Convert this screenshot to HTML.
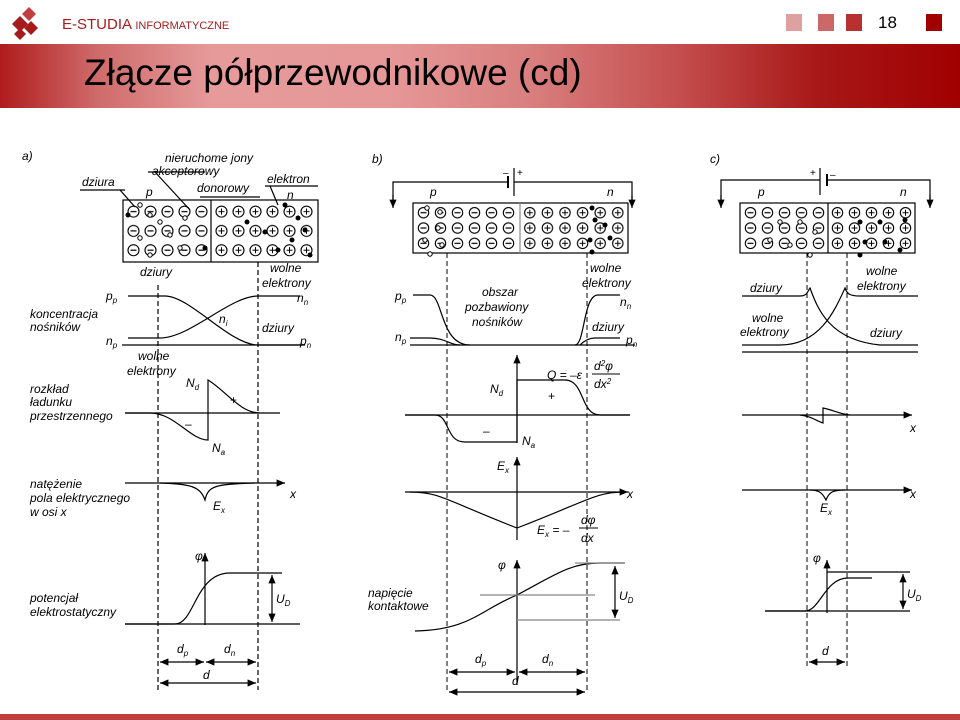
<!DOCTYPE html>
<html><head><meta charset="utf-8"><style>
body{margin:0;width:960px;height:720px;overflow:hidden;background:#fff;font-family:"Liberation Sans",sans-serif}
#hdr{position:absolute;left:0;top:44px;width:960px;height:64px;background:linear-gradient(90deg,#b01c1c 0%,#cf6a6a 10%,#e69a9a 22%,#e69898 40%,#d97f7f 55%,#c65050 70%,#a81818 85%,#a00000 100%)}
#title{position:absolute;left:84px;top:52px;font-size:37px;color:#000}
</style></head><body>
<div id="hdr"></div>
<div id="title">Złącze półprzewodnikowe (cd)</div>
<svg width="960" height="720" style="position:absolute;left:0;top:0" font-family="Liberation Sans,sans-serif" font-style="italic" font-size="12">
<defs>
<pattern id="pma" x="125" y="202" width="17" height="19.3" patternUnits="userSpaceOnUse"><circle cx="8.5" cy="9.6" r="5.5" fill="#fff" stroke="#000" stroke-width="1.1"/><line x1="5.5" y1="9.6" x2="11.5" y2="9.6" stroke="#000" stroke-width="1.2"/></pattern>
<pattern id="ppa" x="213" y="202" width="17" height="19.3" patternUnits="userSpaceOnUse"><circle cx="8.5" cy="9.6" r="5.5" fill="#fff" stroke="#000" stroke-width="1.1"/><line x1="5.5" y1="9.6" x2="11.5" y2="9.6" stroke="#000"/><line x1="8.5" y1="6.6" x2="8.5" y2="12.6" stroke="#000"/></pattern>
<pattern id="pmb" x="415" y="205" width="17" height="15.33" patternUnits="userSpaceOnUse"><circle cx="8.5" cy="7.7" r="5.2" fill="#fff" stroke="#000" stroke-width="1.1"/><line x1="5.5" y1="7.7" x2="11.5" y2="7.7" stroke="#000" stroke-width="1.2"/></pattern>
<pattern id="ppb" x="521" y="205" width="17.6" height="15.33" patternUnits="userSpaceOnUse"><circle cx="8.8" cy="7.7" r="5.2" fill="#fff" stroke="#000" stroke-width="1.1"/><line x1="5.8" y1="7.7" x2="11.8" y2="7.7" stroke="#000"/><line x1="8.8" y1="4.7" x2="8.8" y2="10.7" stroke="#000"/></pattern>
<pattern id="pmc" x="742" y="205" width="17" height="15.33" patternUnits="userSpaceOnUse"><circle cx="8.5" cy="7.7" r="5.2" fill="#fff" stroke="#000" stroke-width="1.1"/><line x1="5.5" y1="7.7" x2="11.5" y2="7.7" stroke="#000" stroke-width="1.2"/></pattern>
<pattern id="ppc" x="829" y="205" width="17" height="15.33" patternUnits="userSpaceOnUse"><circle cx="8.5" cy="7.7" r="5.2" fill="#fff" stroke="#000" stroke-width="1.1"/><line x1="5.5" y1="7.7" x2="11.5" y2="7.7" stroke="#000"/><line x1="8.5" y1="4.7" x2="8.5" y2="10.7" stroke="#000"/></pattern>
<marker id="ar" markerWidth="8" markerHeight="8" refX="7" refY="4" orient="auto"><path d="M0,1 L7,4 L0,7 Z" fill="#000"/></marker>
<marker id="al" markerWidth="8" markerHeight="8" refX="1" refY="4" orient="auto"><path d="M8,1 L1,4 L8,7 Z" fill="#000"/></marker>
</defs>
<!-- header -->
<g fill="#a51c1c"><path d="M12,24 l8,-8 8,8 -8,8z"/><path d="M22,14 l7,-7 7,7 -7,7z" fill="#c04040"/><path d="M24,28 l7,-7 7,7 -7,7z"/><path d="M14,34 l6,-6 6,6 -6,6z"/></g>
<text x="62" y="29" font-style="normal" font-size="15" fill="#a51c1c">E-STUDIA <tspan font-size="11">INFORMATYCZNE</tspan></text>
<rect x="786" y="14" width="16" height="17" fill="#dfa0a0"/><rect x="818" y="14" width="16" height="17" fill="#cc6868"/><rect x="846" y="14" width="16" height="17" fill="#b83030"/>
<text x="878" y="28" font-style="normal" font-size="17" fill="#000">18</text>
<rect x="926" y="14" width="16" height="17" fill="#a00000"/>
<rect x="0" y="714" width="960" height="6" fill="#c04040"/>

<g stroke="#000" fill="none" stroke-width="1.2">
<!-- PANEL A -->
<rect x="123" y="200" width="195" height="62" fill="#fff"/>
<rect x="125" y="202" width="86" height="58" fill="url(#pma)" stroke="none"/>
<rect x="212" y="202" width="105" height="58" fill="url(#ppa)" stroke="none"/>
<line x1="211" y1="200" x2="211" y2="262"/>
<line x1="80" y1="190" x2="125" y2="190"/><line x1="120" y1="190" x2="135" y2="207"/>
<line x1="148" y1="172" x2="205" y2="172"/><line x1="155" y1="172" x2="190" y2="210"/>
<line x1="200" y1="197" x2="260" y2="197"/>
<line x1="265" y1="186" x2="318" y2="186"/><line x1="270" y1="186" x2="278" y2="205"/>
<g stroke-dasharray="5,3"><line x1="158" y1="285" x2="158" y2="690"/><line x1="258" y1="262" x2="258" y2="690"/></g>
<path d="M128,296 H165 C190,296 230,345 258,345 H305"/>
<path d="M128,338 H160 C190,338 230,296 258,296 H300"/>
<line x1="122" y1="345" x2="302" y2="345"/>
<line x1="125" y1="413" x2="280" y2="413"/>
<path d="M125,413 H150 C175,413 190,440 208,440 V380 C225,390 240,413 260,413"/>
<line x1="125" y1="483" x2="285" y2="483" marker-end="url(#ar)"/>
<path d="M160,483 C190,484 200,486 205,500 C208,486 215,484 255,483"/>
<line x1="205" y1="625" x2="205" y2="553" marker-end="url(#ar)"/>
<line x1="125" y1="624" x2="300" y2="624"/>
<path d="M125,624 H175 C195,624 195,573 230,573 H282"/>
<line x1="272" y1="575" x2="272" y2="622" marker-start="url(#al)" marker-end="url(#ar)"/>
<line x1="160" y1="662" x2="204" y2="662" marker-start="url(#al)" marker-end="url(#ar)"/>
<line x1="206" y1="662" x2="256" y2="662" marker-start="url(#al)" marker-end="url(#ar)"/>
<line x1="160" y1="683" x2="256" y2="683" marker-start="url(#al)" marker-end="url(#ar)"/>

<!-- PANEL B -->
<rect x="413" y="203" width="215" height="50" fill="#fff"/>
<rect x="415" y="205" width="104" height="46" fill="url(#pmb)" stroke="none"/>
<rect x="521" y="205" width="106" height="46" fill="url(#ppb)" stroke="none"/>
<line x1="520" y1="203" x2="520" y2="253" stroke="#888"/>
<path d="M393,205 V182 H508 M514,182 H632 V205" /><line x1="393" y1="195" x2="393" y2="208" marker-end="url(#ar)"/><line x1="632" y1="195" x2="632" y2="208" marker-end="url(#ar)"/>
<line x1="508" y1="176" x2="508" y2="188" stroke-width="2"/><line x1="514" y1="168" x2="514" y2="196"/>
<g stroke-dasharray="5,3" stroke-width="1"><line x1="447" y1="253" x2="447" y2="690"/><line x1="587" y1="253" x2="587" y2="690"/></g>
<path d="M413,295 H430 C443,295 440,345 470,345"/>
<path d="M410,338 H430 C445,338 450,345 460,345"/>
<line x1="410" y1="345" x2="635" y2="345"/>
<path d="M575,345 C585,345 583,295 598,295 H620"/>
<path d="M580,345 C585,340 590,338 595,338 H620"/>
<line x1="405" y1="415" x2="630" y2="415"/>
<path d="M405,415 H435 C450,415 445,442 465,442 H517 V380 H565 C585,380 580,415 600,415 H630"/>
<line x1="517" y1="443" x2="517" y2="355" marker-end="url(#ar)"/>
<line x1="405" y1="492" x2="628" y2="492" marker-end="url(#ar)"/>
<path d="M410,492 C440,492 445,500 517,528 C590,500 595,492 625,492"/>
<line x1="517" y1="540" x2="517" y2="457" marker-end="url(#ar)"/>
<line x1="517" y1="685" x2="517" y2="560" marker-end="url(#ar)"/>
<path d="M415,631 C470,630 480,610 517,595 C555,575 570,563 600,563 H625"/>
<line x1="480" y1="595" x2="595" y2="595" stroke="#888"/>
<line x1="575" y1="563" x2="625" y2="563" stroke="#888"/><line x1="517" y1="620" x2="620" y2="620" stroke="#888"/>
<line x1="615" y1="566" x2="615" y2="618" marker-start="url(#al)" marker-end="url(#ar)"/>
<line x1="449" y1="672" x2="515" y2="672" marker-start="url(#al)" marker-end="url(#ar)"/>
<line x1="519" y1="672" x2="585" y2="672" marker-start="url(#al)" marker-end="url(#ar)"/>
<line x1="449" y1="692" x2="585" y2="692" marker-start="url(#al)" marker-end="url(#ar)"/>

<!-- PANEL C -->
<rect x="740" y="203" width="175" height="50" fill="#fff"/>
<rect x="742" y="205" width="85" height="46" fill="url(#pmc)" stroke="none"/>
<rect x="829" y="205" width="85" height="46" fill="url(#ppc)" stroke="none"/>
<line x1="828" y1="203" x2="828" y2="253"/>
<path d="M721,205 V180 H820 M827,180 H930 V205"/><line x1="721" y1="195" x2="721" y2="208" marker-end="url(#ar)"/><line x1="930" y1="195" x2="930" y2="208" marker-end="url(#ar)"/>
<line x1="820" y1="168" x2="820" y2="195"/><line x1="827" y1="174" x2="827" y2="186" stroke-width="2"/>
<g stroke-dasharray="5,3" stroke-width="1"><line x1="807" y1="253" x2="807" y2="668"/><line x1="847" y1="253" x2="847" y2="668"/></g>
<path d="M742,296 H800 C808,296 808,290 810,288 C818,310 830,340 880,345 H918"/>
<path d="M742,345 H780 C820,345 835,310 845,288 C847,294 850,296 860,296 H918"/>
<line x1="742" y1="352" x2="918" y2="352"/>
<line x1="742" y1="415" x2="912" y2="415" marker-end="url(#ar)"/>
<path d="M800,415 C810,416 815,420 823,423 V408 C833,410 840,414 850,415"/>
<line x1="742" y1="490" x2="912" y2="490" marker-end="url(#ar)"/>
<path d="M810,490 C818,490 822,492 826,500 C829,492 833,490 845,490"/>
<line x1="827" y1="613" x2="827" y2="560" marker-end="url(#ar)"/>
<line x1="765" y1="611" x2="910" y2="611"/>
<line x1="827" y1="572" x2="910" y2="572"/>
<path d="M765,611 H805 C820,611 825,578 848,578 H872"/>
<line x1="903" y1="574" x2="903" y2="609" marker-start="url(#al)" marker-end="url(#ar)"/>
<line x1="809" y1="662" x2="845" y2="662" marker-start="url(#al)" marker-end="url(#ar)"/>
</g>

<!-- carriers -->
<g fill="#000">
<circle cx="128" cy="215" r="2.5"/><circle cx="205" cy="248" r="2.5"/><circle cx="247" cy="222" r="2.5"/><circle cx="265" cy="232" r="2.5"/><circle cx="285" cy="205" r="2.5"/><circle cx="292" cy="240" r="2.5"/><circle cx="278" cy="250" r="2.5"/><circle cx="305" cy="230" r="2.5"/><circle cx="298" cy="218" r="2.5"/><circle cx="310" cy="255" r="2.5"/>
<circle cx="592" cy="208" r="2.5"/><circle cx="595" cy="220" r="2.5"/><circle cx="605" cy="225" r="2.5"/><circle cx="590" cy="240" r="2.5"/><circle cx="610" cy="238" r="2.5"/><circle cx="592" cy="252" r="2.5"/>
<circle cx="860" cy="222" r="2.5"/><circle cx="880" cy="222" r="2.5"/><circle cx="865" cy="242" r="2.5"/><circle cx="885" cy="242" r="2.5"/><circle cx="860" cy="255" r="2.5"/><circle cx="900" cy="250" r="2.5"/><circle cx="905" cy="220" r="2.5"/>
</g>
<g fill="#fff" stroke="#000" stroke-width="1">
<circle cx="140" cy="205" r="2.2"/><circle cx="150" cy="215" r="2.2"/><circle cx="160" cy="222" r="2.2"/><circle cx="140" cy="238" r="2.2"/><circle cx="170" cy="235" r="2.2"/><circle cx="180" cy="248" r="2.2"/><circle cx="150" cy="255" r="2.2"/><circle cx="185" cy="218" r="2.2"/>
<circle cx="427" cy="208" r="2.2"/><circle cx="440" cy="212" r="2.2"/><circle cx="438" cy="228" r="2.2"/><circle cx="425" cy="240" r="2.2"/><circle cx="442" cy="245" r="2.2"/><circle cx="430" cy="254" r="2.2"/>
<circle cx="800" cy="222" r="2.2"/><circle cx="815" cy="232" r="2.2"/><circle cx="780" cy="222" r="2.2"/><circle cx="790" cy="245" r="2.2"/><circle cx="810" cy="255" r="2.2"/><circle cx="770" cy="240" r="2.2"/>
</g>

<!-- labels -->
<g fill="#000">
<text x="22" y="160">a)</text><text x="82" y="186">dziura</text><text x="165" y="162">nieruchome jony</text><text x="152" y="175">akceptorowy</text><text x="197" y="192">donorowy</text><text x="267" y="183">elektron</text>
<text x="146" y="196">p</text><text x="287" y="199">n</text>
<text x="140" y="276">dziury</text><text x="270" y="272">wolne</text><text x="262" y="287">elektrony</text>
<text x="106" y="300">p<tspan font-size="8" dy="3">p</tspan></text><text x="30" y="318">koncentracja</text><text x="30" y="331">nośników</text><text x="106" y="345">n<tspan font-size="8" dy="3">p</tspan></text>
<text x="219" y="323">n<tspan font-size="8" dy="3">i</tspan></text><text x="262" y="332">dziury</text><text x="297" y="302">n<tspan font-size="8" dy="3">n</tspan></text><text x="300" y="345">p<tspan font-size="8" dy="3">n</tspan></text>
<text x="138" y="360">wolne</text><text x="127" y="375">elektrony</text><text x="186" y="387">N<tspan font-size="8" dy="3">d</tspan></text>
<text x="30" y="393">rozkład</text><text x="30" y="406">ładunku</text><text x="30" y="420">przestrzennego</text>
<text x="230" y="404" font-style="normal">+</text><text x="185" y="428" font-style="normal">–</text><text x="212" y="452">N<tspan font-size="8" dy="3">a</tspan></text>
<text x="30" y="488">natężenie</text><text x="30" y="502">pola elektrycznego</text><text x="30" y="516">w osi x</text>
<text x="290" y="498">x</text><text x="213" y="510">E<tspan font-size="8" dy="3">x</tspan></text>
<text x="195" y="560">φ</text><text x="30" y="602">potencjał</text><text x="30" y="616">elektrostatyczny</text>
<text x="276" y="603">U<tspan font-size="8" dy="3">D</tspan></text>
<text x="177" y="653">d<tspan font-size="8" dy="3">p</tspan></text><text x="224" y="653">d<tspan font-size="8" dy="3">n</tspan></text><text x="203" y="679">d</text>

<text x="372" y="163">b)</text><text x="503" y="176" font-style="normal" font-size="10">–</text><text x="517" y="176" font-style="normal" font-size="10">+</text>
<text x="430" y="196">p</text><text x="607" y="196">n</text>
<text x="395" y="300">p<tspan font-size="8" dy="3">p</tspan></text><text x="395" y="341">n<tspan font-size="8" dy="3">p</tspan></text>
<text x="482" y="296">obszar</text><text x="465" y="311">pozbawiony</text><text x="472" y="326">nośników</text>
<text x="590" y="272">wolne</text><text x="582" y="287">elektrony</text><text x="620" y="306">n<tspan font-size="8" dy="3">n</tspan></text>
<text x="592" y="331">dziury</text><text x="626" y="344">p<tspan font-size="8" dy="3">n</tspan></text>
<text x="490" y="393">N<tspan font-size="8" dy="3">d</tspan></text><text x="548" y="400" font-style="normal">+</text><text x="483" y="435" font-style="normal">–</text><text x="522" y="445">N<tspan font-size="8" dy="3">a</tspan></text>
<text x="547" y="379">Q = –ε</text><text x="594" y="370">d<tspan font-size="8" dy="-4">2</tspan><tspan dy="4">φ</tspan></text><line x1="592" y1="374" x2="620" y2="374" stroke="#000"/><text x="594" y="388">dx<tspan font-size="8" dy="-4">2</tspan></text>
<text x="497" y="470">E<tspan font-size="8" dy="3">x</tspan></text><text x="627" y="498">x</text>
<text x="537" y="534">E<tspan font-size="8" dy="3">x</tspan><tspan dy="-3"> = –</tspan></text><text x="581" y="524">dφ</text><line x1="579" y1="528" x2="598" y2="528" stroke="#000"/><text x="581" y="542">dx</text>
<text x="498" y="569">φ</text><text x="368" y="597">napięcie</text><text x="368" y="610">kontaktowe</text><text x="619" y="600">U<tspan font-size="8" dy="3">D</tspan></text>
<text x="475" y="663">d<tspan font-size="8" dy="3">p</tspan></text><text x="542" y="663">d<tspan font-size="8" dy="3">n</tspan></text><text x="512" y="685">d</text>

<text x="710" y="163">c)</text><text x="810" y="176" font-style="normal" font-size="10">+</text><text x="830" y="178" font-style="normal" font-size="10">–</text>
<text x="758" y="196">p</text><text x="900" y="196">n</text>
<text x="750" y="292">dziury</text><text x="866" y="275">wolne</text><text x="857" y="290">elektrony</text>
<text x="752" y="322">wolne</text><text x="740" y="336">elektrony</text><text x="870" y="337">dziury</text>
<text x="910" y="432">x</text><text x="910" y="498">x</text><text x="820" y="512">E<tspan font-size="8" dy="3">x</tspan></text>
<text x="813" y="562">φ</text><text x="907" y="598">U<tspan font-size="8" dy="3">D</tspan></text><text x="822" y="655">d</text>
</g>
</svg>
</body></html>
